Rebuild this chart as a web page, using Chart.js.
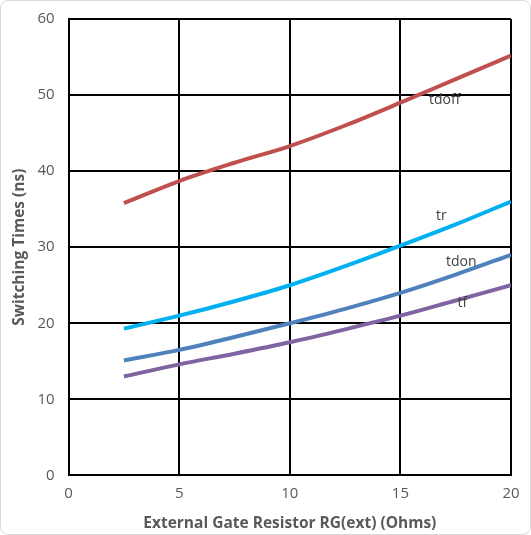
<!DOCTYPE html>
<html>
<head>
<meta charset="utf-8">
<script src="https://cdn.jsdelivr.net/npm/chart.js@4.4.0/dist/chart.umd.min.js"></script>
<style>
  html, body { margin: 0; padding: 0; background: #fff; }
  #wrap { position: relative; width: 531px; height: 535px; box-sizing: border-box;
          border: 1px solid #d9d9d9; border-radius: 8px; overflow: hidden; }
  #c { position: absolute; left: 0; top: -5px; }
</style>
</head>
<body>
<div id="wrap"><canvas id="c" width="529" height="539"></canvas></div>
<script>
// ── Data ───────────────────────────────────────────────
const rgOhms  = [2.5, 5, 7.5, 10, 12.5, 15, 17.5, 20];
const tdoff   = [35.8, 38.7, 41.1, 43.3, 46.0, 49.0, 52.1, 55.2];
const tr      = [19.3, 21.0, 22.9, 25.0, 27.5, 30.2, 33.0, 36.0];
const tdon    = [15.1, 16.5, 18.2, 20.0, 21.9, 24.0, 26.4, 29.0];
const tf      = [13.0, 14.6, 16.0, 17.5, 19.2, 21.0, 23.0, 25.0];
const seriesNames  = ['tdoff', 'tr', 'tdon', 'tf'];
const seriesColors = ['#c0504d', '#00b0f0', '#4f81bd', '#8064a2'];
// label anchor points (data units)
const labelX = [17.0, 16.85, 17.75, 17.8];
const labelY = [49.3, 34.1, 28.0, 22.6];

const FONT = "'Open Sans', 'Liberation Sans', sans-serif";
const pts = arr => arr.map((v, i) => ({ x: rgOhms[i], y: v }));

// ── Inline series labels ───────────────────────────────
const seriesLabels = {
  id: 'seriesLabels',
  afterDatasetsDraw(chart) {
    const { ctx, scales: { x, y } } = chart;
    ctx.save();
    ctx.font = `14px ${FONT}`;
    ctx.fillStyle = '#404040';
    ctx.textAlign = 'center';
    ctx.textBaseline = 'middle';
    seriesNames.forEach((n, i) => {
      ctx.fillText(n, x.getPixelForValue(labelX[i]), y.getPixelForValue(labelY[i]));
    });
    ctx.restore();
  }
};

new Chart(document.getElementById('c').getContext('2d'), {
  type: 'line',
  data: {
    datasets: [tdoff, tr, tdon, tf].map((arr, i) => ({
      label: seriesNames[i],
      data: pts(arr),
      borderColor: seriesColors[i],
      borderWidth: 4,
      pointRadius: 0,
      fill: false,
      cubicInterpolationMode: 'monotone',
    }))
  },
  options: {
    responsive: false, animation: false,
    layout: { padding: { top: 6, right: 19, left: 11, bottom: 0 } },
    plugins: { legend: { display: false }, tooltip: { enabled: false } },
    scales: {
      x: {
        type: 'linear', min: 0, max: 20,
        grid: { color: '#000', lineWidth: 2, drawTicks: false },
        border: { color: '#000', width: 2 },
        ticks: { stepSize: 5, color: '#595959', padding: 9, font: { size: 15, family: FONT } },
        title: { display: true, text: 'External Gate Resistor RG(ext) (Ohms)', color: '#595959',
                 font: { size: 15.5, weight: 'bold', family: FONT }, padding: { top: 3, bottom: 2 } }
      },
      y: {
        min: 0, max: 60,
        grid: { color: '#000', lineWidth: 2, drawTicks: false },
        border: { color: '#000', width: 2 },
        ticks: { stepSize: 10, color: '#595959', padding: 14, font: { size: 15, family: FONT } },
        title: { display: true, text: 'Switching Times (ns)', color: '#595959',
                 font: { size: 15.5, weight: 'bold', family: FONT, lineHeight: 1 },
                 padding: { top: 0, bottom: -4 } }
      }
    }
  },
  plugins: [seriesLabels]
});
</script>
</body>
</html>
